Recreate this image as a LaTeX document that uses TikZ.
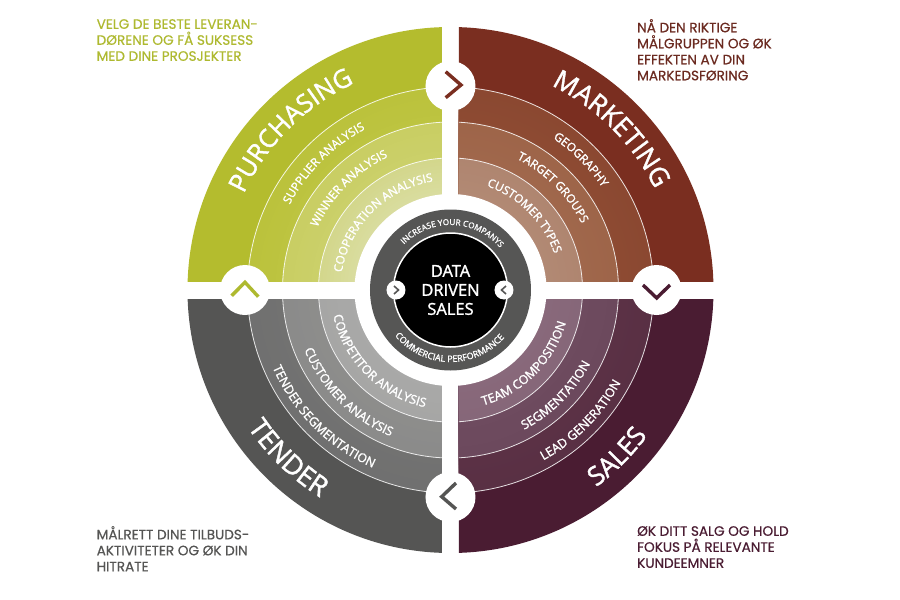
\documentclass[tikz,border=0pt]{standalone}
\usepackage{fontspec}
\setmainfont{Open Sans}
\newfontfamily\arcfont{Open Sans}[RawFeature={embolden=1.5}]
\newfontfamily\poppinsheavy{Poppins}[RawFeature={embolden=0.5}]
\usetikzlibrary{decorations.text}

\definecolor{pgA}{HTML}{DADDA0}\definecolor{pgB}{HTML}{D3D78C}
\definecolor{pgC}{HTML}{CBD06A}\definecolor{pgD}{HTML}{C9CE63}
\definecolor{pgE}{HTML}{BDC441}\definecolor{pgF}{HTML}{BBC23C}
\definecolor{pgG}{HTML}{B4BC2E}
\definecolor{mkA}{HTML}{B28A74}\definecolor{mkB}{HTML}{AF8570}
\definecolor{mkC}{HTML}{A0674C}\definecolor{mkD}{HTML}{9E6549}
\definecolor{mkE}{HTML}{8D4B33}\definecolor{mkF}{HTML}{8B4831}
\definecolor{mkG}{HTML}{7A2E20}
\definecolor{tdA}{HTML}{A9A9A8}\definecolor{tdB}{HTML}{A6A6A5}
\definecolor{tdC}{HTML}{8D8D8C}\definecolor{tdD}{HTML}{8B8B8A}
\definecolor{tdE}{HTML}{727271}\definecolor{tdF}{HTML}{707070}
\definecolor{tdG}{HTML}{555554}
\definecolor{slA}{HTML}{89697B}\definecolor{slB}{HTML}{866779}
\definecolor{slC}{HTML}{6E4B5F}\definecolor{slD}{HTML}{6C495D}
\definecolor{slE}{HTML}{5B3145}\definecolor{slF}{HTML}{593044}
\definecolor{slG}{HTML}{4A1C32}
\definecolor{ringgrey}{HTML}{565655}
\definecolor{pgtext}{HTML}{AEB92F}
\definecolor{mktext}{HTML}{6B2A20}
\definecolor{tdtext}{HTML}{555554}
\definecolor{sltext}{HTML}{4A1C32}

% outer radius, inner radius, colour at inner edge, colour at outer edge
\newcommand\bandfill[4]{%
  \foreach \i in {0,...,9}{%
    \pgfmathsetmacro\rr{#1-(#1-#2)*\i/10}%
    \pgfmathsetmacro\mixv{\i*10}%
    \fill[#3!\mixv!#4] (0,0) circle[radius=\rr pt];}}

\newcommand\quadrant[5]{%
  \begin{scope}
    \clip (#1,#2) rectangle (#3,#4);
    \fill[#5G] (0,0) circle[radius=263pt];
    \bandfill{203}{168}{#5E}{#5F}
    \bandfill{168}{132}{#5C}{#5D}
    \bandfill{132}{96}{#5A}{#5B}
    \draw[bandline] (0,0) circle[radius=132pt] (0,0) circle[radius=168pt] (0,0) circle[radius=203pt];
  \end{scope}}
% size, radius, centre angle, text
\newcommand\overarc[4]{%
  \path[decorate,decoration={text along path,text align=center,
    text={|\color{white}\arcfont\fontsize{#1}{#1}\selectfont|#4}}]
    ({#3+70}:#2pt) arc[start angle={#3+70},end angle={#3-70},radius=#2pt];}
\newcommand\underarc[4]{%
  \path[decorate,decoration={text along path,text align=center,
    text={|\color{white}\arcfont\fontsize{#1}{#1}\selectfont|#4}}]
    ({#3-70}:#2pt) arc[start angle={#3-70},end angle={#3+70},radius=#2pt];}

\tikzset{
  bandline/.style={draw=white,line width=.8pt,opacity=.85},
  badge/.style={circle,fill=white,minimum size=50pt,inner sep=0pt},
  minibadge/.style={circle,fill=white,minimum size=19pt,inner sep=0pt},
  chevron/.style={line width=3.4pt,line cap=butt,line join=miter},
  minichevron/.style={draw=ringgrey,line width=1.6pt},
  caption/.style={anchor=north west,align=left,inner sep=0pt,
    font=\poppinsheavy\fontsize{13.6}{16}\selectfont},
}
\begin{document}
\begin{tikzpicture}[x=1pt,y=1pt]
\useasboundingbox (-450.5,-310) rectangle (449.5,290);
\fill[white] (-450.5,-310) rectangle (449.5,290);

\quadrant{-270}{9}{-8.5}{270}{pg}
\quadrant{8.5}{9}{270}{270}{mk}
\quadrant{-270}{-9}{-8.5}{-270}{td}
\quadrant{8.5}{-9}{270}{-270}{sl}

% white hub, grey ring, black core
\node[circle,fill=white,minimum size=192pt,inner sep=0pt] (hub) at (0,0) {};
\node[circle,fill=ringgrey,minimum size=161pt,inner sep=0pt] (ring) at (0,0) {};
\node[circle,fill=black,draw=white,line width=1.5pt,minimum size=114pt,inner sep=0pt,
  align=center,text=white,font=\arcfont\fontsize{16.5}{19}\selectfont] (core) at (0,0) {DATA\\DRIVEN\\SALES};

% badges
\node[badge] (bTop) at (0,204) {};
\node[badge] (bRight) at (206,0) {};
\node[badge] (bBottom) at (0,-207) {};
\node[badge] (bLeft) at (-205.5,0) {};
\node[minibadge] (mLeft) at (-54.5,0) {};
\node[minibadge] (mRight) at (53.5,0) {};

% chevrons
\draw[chevron,draw=mkG] (-4.8,218.3) -- (10.5,205) -- (-4.8,192.3);
\draw[chevron,draw=sltext] (192.5,5) -- (206.2,-8) -- (219.5,5);
\draw[chevron,draw=tdG] (5.5,-193) -- (-8.8,-206.7) -- (5.5,-219);
\draw[chevron,draw=pgtext] (-218.8,-5.7) -- (-205.5,7.7) -- (-192.2,-6.7);
\draw[minichevron] (-56.5,4) -- (-52,0) -- (-56.5,-4);
\draw[minichevron] (55.5,4) -- (51,0) -- (55.5,-4);

% curved titles
\overarc{25.5}{228}{135}{PURCHASING}
\overarc{26.5}{228}{45}{MARKETING}
\underarc{27}{245}{226}{TENDER}
\underarc{26}{245}{-45}{SALES}

% curved sublabels
\overarc{11.8}{182}{135}{SUPPLIER ANALYSIS}
\overarc{11.8}{147}{135}{WINNER ANALYSIS}
\overarc{11.8}{110}{135}{COOPERATION ANALYSIS}
\overarc{11.8}{183}{45}{GEOGRAPHY}
\overarc{11.8}{147}{45}{TARGET GROUPS}
\overarc{11.8}{110}{45}{CUSTOMER TYPES}
\underarc{12.5}{194}{225}{TENDER SEGMENTATION}
\underarc{12.5}{158}{225}{CUSTOMER ANALYSIS}
\underarc{12.5}{120}{225}{COMPETITOR ANALYSIS}
\underarc{12.5}{194}{-45}{LEAD GENERATION}
\underarc{12.5}{158}{-45}{SEGMENTATION}
\underarc{12.5}{120}{-45}{TEAM COMPOSITION}

% ring text
\overarc{8.2}{65}{88}{INCREASE YOUR COMPANYS}
\underarc{9}{72}{-91}{COMMERCIAL PERFORMANCE}

% captions
\node[caption,text=pgtext] (capPurchasing) at (-354,271) {VELG DE BESTE LEVERAN-\\DØRENE OG FÅ SUKSESS\\MED DINE PROSJEKTER};
\node[caption,text=mktext] (capMarketing) at (186.5,271) {NÅ DEN RIKTIGE\\MÅLGRUPPEN OG ØK\\EFFEKTEN AV DIN\\MARKEDSFØRING};
\node[caption,text=tdtext] (capTender) at (-354,-236) {MÅLRETT DINE TILBUDS-\\AKTIVITETER OG ØK DIN\\HITRATE};
\node[caption,text=sltext] (capSales) at (186.5,-236) {ØK DITT SALG OG HOLD\\FOKUS PÅ RELEVANTE\\KUNDEEMNER};
\end{tikzpicture}
\end{document}
